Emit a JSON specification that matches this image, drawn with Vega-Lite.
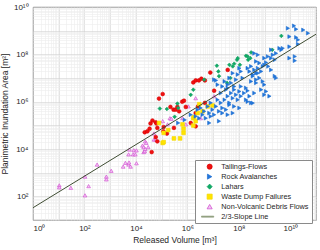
{
"$schema": "https://vega.github.io/schema/vega-lite/v6.json",
"width": 283, "height": 213,
"autosize": {"type": "none"},
"padding": {"left": 33, "top": 7, "right": 4, "bottom": 30},
"background": "white",
"config": {
  "view": {"stroke": "#555555", "strokeWidth": 0.8},
  "axis": {"labelFont": "Liberation Sans", "titleFont": "Liberation Sans", "labelFontSize": 8, "titleFontSize": 8.5, "titleFontWeight": "normal", "labelColor": "#262626", "titleColor": "#262626", "domain": false, "ticks": false, "labelOverlap": false, "gridWidth": 0.6},
  "legend": {"orient": "none", "legendX": 162, "legendY": 153, "title": null, "padding": 3, "strokeColor": "#8a8a8a", "fillColor": "white", "labelFont": "Liberation Sans", "labelFontSize": 7.3, "labelColor": "#262626", "symbolSize": 26, "symbolOffset": 8, "labelOffset": 8, "rowPadding": 1, "symbolStrokeWidth": 0.7}
},
"datasets": {
"pts": [
{"s":"Non-Volcanic Debris Flows","v":10.5,"a":290},
{"s":"Non-Volcanic Debris Flows","v":10.5,"a":240},
{"s":"Non-Volcanic Debris Flows","v":29.5,"a":230},
{"s":"Non-Volcanic Debris Flows","v":105,"a":680},
{"s":"Non-Volcanic Debris Flows","v":105,"a":110},
{"s":"Non-Volcanic Debris Flows","v":145,"a":270},
{"s":"Non-Volcanic Debris Flows","v":310,"a":2200},
{"s":"Non-Volcanic Debris Flows","v":710,"a":680},
{"s":"Non-Volcanic Debris Flows","v":710,"a":520},
{"s":"Non-Volcanic Debris Flows","v":1100,"a":1200},
{"s":"Non-Volcanic Debris Flows","v":3200,"a":1800},
{"s":"Non-Volcanic Debris Flows","v":3900,"a":2600},
{"s":"Non-Volcanic Debris Flows","v":5200,"a":2200},
{"s":"Non-Volcanic Debris Flows","v":5400,"a":2700},
{"s":"Non-Volcanic Debris Flows","v":6200,"a":1800},
{"s":"Non-Volcanic Debris Flows","v":10500,"a":2500},
{"s":"Non-Volcanic Debris Flows","v":5200,"a":5900},
{"s":"Non-Volcanic Debris Flows","v":7800,"a":5900},
{"s":"Non-Volcanic Debris Flows","v":9500,"a":5900},
{"s":"Non-Volcanic Debris Flows","v":5600,"a":9500},
{"s":"Non-Volcanic Debris Flows","v":8300,"a":8900},
{"s":"Non-Volcanic Debris Flows","v":10500,"a":8700},
{"s":"Non-Volcanic Debris Flows","v":18000,"a":14000},
{"s":"Non-Volcanic Debris Flows","v":20000,"a":7400},
{"s":"Non-Volcanic Debris Flows","v":20000,"a":12000},
{"s":"Non-Volcanic Debris Flows","v":22000,"a":8100},
{"s":"Non-Volcanic Debris Flows","v":23000,"a":10000},
{"s":"Non-Volcanic Debris Flows","v":23000,"a":21000},
{"s":"Non-Volcanic Debris Flows","v":25000,"a":18000},
{"s":"Non-Volcanic Debris Flows","v":30000,"a":12000},
{"s":"Non-Volcanic Debris Flows","v":50000,"a":25000},
{"s":"Non-Volcanic Debris Flows","v":50000,"a":45000},
{"s":"Non-Volcanic Debris Flows","v":59000,"a":25000},
{"s":"Non-Volcanic Debris Flows","v":110000,"a":150000},
{"s":"Non-Volcanic Debris Flows","v":170000,"a":110000},
{"s":"Non-Volcanic Debris Flows","v":210000,"a":200000},
{"s":"Non-Volcanic Debris Flows","v":240000,"a":190000},
{"s":"Non-Volcanic Debris Flows","v":650000,"a":200000},
{"s":"Non-Volcanic Debris Flows","v":870000,"a":110000},
{"s":"Non-Volcanic Debris Flows","v":1100000,"a":630000},
{"s":"Non-Volcanic Debris Flows","v":2100000,"a":1400000},
{"s":"Non-Volcanic Debris Flows","v":3300000,"a":200000},
{"s":"Non-Volcanic Debris Flows","v":11000000,"a":1700000},
{"s":"Tailings-Flows","v":79000,"a":1350000},
{"s":"Tailings-Flows","v":110000,"a":2100000},
{"s":"Tailings-Flows","v":44000,"a":160000},
{"s":"Tailings-Flows","v":59000,"a":135000},
{"s":"Tailings-Flows","v":37000,"a":120000},
{"s":"Tailings-Flows","v":63000,"a":120000},
{"s":"Tailings-Flows","v":22000,"a":51000},
{"s":"Tailings-Flows","v":34000,"a":72000},
{"s":"Tailings-Flows","v":59000,"a":32000},
{"s":"Tailings-Flows","v":68000,"a":78000},
{"s":"Tailings-Flows","v":41000,"a":7400},
{"s":"Tailings-Flows","v":28000,"a":56000},
{"s":"Tailings-Flows","v":120000,"a":85000},
{"s":"Tailings-Flows","v":117000,"a":56000},
{"s":"Tailings-Flows","v":220000,"a":600000},
{"s":"Tailings-Flows","v":290000,"a":460000},
{"s":"Tailings-Flows","v":350000,"a":460000},
{"s":"Tailings-Flows","v":410000,"a":600000},
{"s":"Tailings-Flows","v":480000,"a":390000},
{"s":"Tailings-Flows","v":870000,"a":600000},
{"s":"Tailings-Flows","v":300000,"a":78000},
{"s":"Tailings-Flows","v":160000,"a":45000},
{"s":"Tailings-Flows","v":68000,"a":21000},
{"s":"Tailings-Flows","v":630000,"a":1000000},
{"s":"Tailings-Flows","v":740000,"a":1100000},
{"s":"Tailings-Flows","v":2100000,"a":330000},
{"s":"Tailings-Flows","v":2600000,"a":630000},
{"s":"Tailings-Flows","v":4800000,"a":890000},
{"s":"Tailings-Flows","v":1350000,"a":126000},
{"s":"Tailings-Flows","v":2100000,"a":91000},
{"s":"Tailings-Flows","v":11000000,"a":2900000},
{"s":"Tailings-Flows","v":7800000,"a":17000000},
{"s":"Tailings-Flows","v":37000000,"a":22000000},
{"s":"Tailings-Flows","v":1700000,"a":6500000},
{"s":"Tailings-Flows","v":2100000,"a":7900000},
{"s":"Tailings-Flows","v":2800000,"a":7900000},
{"s":"Tailings-Flows","v":3500000,"a":9300000},
{"s":"Tailings-Flows","v":4800000,"a":7900000},
{"s":"Lahars","v":85000,"a":510000},
{"s":"Lahars","v":160000,"a":490000},
{"s":"Lahars","v":320000,"a":230000},
{"s":"Lahars","v":410000,"a":830000},
{"s":"Lahars","v":440000,"a":540000},
{"s":"Lahars","v":1350000,"a":1950000},
{"s":"Lahars","v":1700000,"a":3200000},
{"s":"Lahars","v":4500000,"a":8500000},
{"s":"Lahars","v":14000000,"a":33000000},
{"s":"Lahars","v":16000000,"a":19000000},
{"s":"Lahars","v":17000000,"a":12000000},
{"s":"Lahars","v":35000000,"a":6200000},
{"s":"Lahars","v":47000000,"a":10000000},
{"s":"Lahars","v":43000000,"a":36000000},
{"s":"Lahars","v":58000000,"a":31000000},
{"s":"Lahars","v":66000000,"a":40000000},
{"s":"Lahars","v":85000000,"a":59000000},
{"s":"Lahars","v":91000000,"a":69000000},
{"s":"Lahars","v":110000000,"a":36000000},
{"s":"Lahars","v":190000000,"a":87000000},
{"s":"Lahars","v":220000000,"a":81000000},
{"s":"Lahars","v":280000000,"a":69000000},
{"s":"Lahars","v":230000000,"a":59000000},
{"s":"Lahars","v":300000000,"a":120000000},
{"s":"Lahars","v":2000000000,"a":155000000},
{"s":"Lahars","v":4500000000,"a":600000000},
{"s":"Waste Dump Failures","v":79000,"a":126000},
{"s":"Waste Dump Failures","v":110000,"a":18000},
{"s":"Waste Dump Failures","v":120000,"a":19500},
{"s":"Waste Dump Failures","v":120000,"a":48000},
{"s":"Waste Dump Failures","v":180000,"a":63000},
{"s":"Waste Dump Failures","v":300000,"a":28000},
{"s":"Waste Dump Failures","v":520000,"a":28000},
{"s":"Waste Dump Failures","v":650000,"a":110000},
{"s":"Waste Dump Failures","v":710000,"a":72000},
{"s":"Waste Dump Failures","v":710000,"a":48000},
{"s":"Waste Dump Failures","v":1700000,"a":98000},
{"s":"Waste Dump Failures","v":1700000,"a":200000},
{"s":"Waste Dump Failures","v":1800000,"a":220000},
{"s":"Waste Dump Failures","v":2100000,"a":150000},
{"s":"Waste Dump Failures","v":2500000,"a":330000},
{"s":"Waste Dump Failures","v":2900000,"a":780000},
{"s":"Waste Dump Failures","v":3900000,"a":390000},
{"s":"Waste Dump Failures","v":6200000,"a":630000},
{"s":"Waste Dump Failures","v":9500000,"a":690000},
{"s":"Rock Avalanches","v":8.1e9,"a":1.26e9},
{"s":"Rock Avalanches","v":1.4e10,"a":1.6e9},
{"s":"Rock Avalanches","v":1.7e10,"a":1.15e9},
{"s":"Rock Avalanches","v":3.2e10,"a":1.07e9},
{"s":"Rock Avalanches","v":4.9e10,"a":7.8e8},
{"s":"Rock Avalanches","v":9.3e9,"a":5.6e8},
{"s":"Rock Avalanches","v":1.7e10,"a":5.2e8},
{"s":"Rock Avalanches","v":2.0e10,"a":4.1e8},
{"s":"Rock Avalanches","v":3.8e9,"a":1.8e8},
{"s":"Rock Avalanches","v":5.1e9,"a":1.8e8},
{"s":"Rock Avalanches","v":1.8e9,"a":1.55e8},
{"s":"Rock Avalanches","v":2.8e9,"a":1.1e8},
{"s":"Rock Avalanches","v":2.1e9,"a":9.5e7},
{"s":"Rock Avalanches","v":1.5e10,"a":5.4e7},
{"s":"Rock Avalanches","v":1.35e9,"a":8.1e7},
{"s":"Rock Avalanches","v":9.8e8,"a":6.9e7},
{"s":"Rock Avalanches","v":4.0e8,"a":1.1e8},
{"s":"Rock Avalanches","v":5.5e8,"a":9.5e7},
{"s":"Rock Avalanches","v":6.3e8,"a":4.3e7},
{"s":"Rock Avalanches","v":8.5e8,"a":3.1e7},
{"s":"Rock Avalanches","v":5.5e8,"a":2.6e7},
{"s":"Rock Avalanches","v":7.4e8,"a":1.9e7},
{"s":"Rock Avalanches","v":4.7e8,"a":1.6e7},
{"s":"Rock Avalanches","v":1.15e9,"a":4.5e7},
{"s":"Rock Avalanches","v":1.4e9,"a":3.1e7},
{"s":"Rock Avalanches","v":1.8e9,"a":2.2e7},
{"s":"Rock Avalanches","v":2.5e9,"a":1.2e7},
{"s":"Rock Avalanches","v":2.8e9,"a":1.0e7},
{"s":"Rock Avalanches","v":2.2e8,"a":2.6e7},
{"s":"Rock Avalanches","v":3.0e8,"a":3.1e7},
{"s":"Rock Avalanches","v":2.6e8,"a":1.9e7},
{"s":"Rock Avalanches","v":3.5e8,"a":1.4e7},
{"s":"Rock Avalanches","v":4.7e8,"a":8.5e6},
{"s":"Rock Avalanches","v":3.0e8,"a":7.2e6},
{"s":"Rock Avalanches","v":1.05e8,"a":2.6e7},
{"s":"Rock Avalanches","v":1.2e8,"a":1.9e7},
{"s":"Rock Avalanches","v":9.1e7,"a":1.4e7},
{"s":"Rock Avalanches","v":1.4e8,"a":1.0e7},
{"s":"Rock Avalanches","v":7.8e7,"a":8.5e6},
{"s":"Rock Avalanches","v":5.8e7,"a":1.6e7},
{"s":"Rock Avalanches","v":4.3e7,"a":1.0e7},
{"s":"Rock Avalanches","v":5.0e7,"a":6.2e6},
{"s":"Rock Avalanches","v":6.6e7,"a":4.4e6},
{"s":"Rock Avalanches","v":3.7e7,"a":3.8e6},
{"s":"Rock Avalanches","v":2.8e7,"a":7.2e6},
{"s":"Rock Avalanches","v":2.3e7,"a":4.4e6},
{"s":"Rock Avalanches","v":3.2e7,"a":3.2e6},
{"s":"Rock Avalanches","v":2.0e7,"a":2.3e6},
{"s":"Rock Avalanches","v":1.2e8,"a":4.4e6},
{"s":"Rock Avalanches","v":1.9e8,"a":3.8e6},
{"s":"Rock Avalanches","v":1.6e8,"a":2.3e6},
{"s":"Rock Avalanches","v":2.6e8,"a":1.7e6},
{"s":"Rock Avalanches","v":1.2e8,"a":1.7e6},
{"s":"Rock Avalanches","v":9.1e7,"a":1.2e6},
{"s":"Rock Avalanches","v":2.2e8,"a":1.0e6},
{"s":"Rock Avalanches","v":3.5e8,"a":8.7e5},
{"s":"Rock Avalanches","v":7.4e8,"a":3.2e6},
{"s":"Rock Avalanches","v":1.15e9,"a":2.7e6},
{"s":"Rock Avalanches","v":9.8e8,"a":1.95e6},
{"s":"Rock Avalanches","v":1.55e9,"a":1.7e6},
{"s":"Rock Avalanches","v":5.0e7,"a":2.3e6},
{"s":"Rock Avalanches","v":3.7e7,"a":1.7e6},
{"s":"Rock Avalanches","v":5.8e7,"a":1.4e6},
{"s":"Rock Avalanches","v":2.8e7,"a":1.2e6},
{"s":"Rock Avalanches","v":4.3e7,"a":8.9e5},
{"s":"Rock Avalanches","v":1.5e7,"a":1.2e6},
{"s":"Rock Avalanches","v":2.0e7,"a":8.9e5},
{"s":"Rock Avalanches","v":1.3e7,"a":6.3e5},
{"s":"Rock Avalanches","v":2.3e7,"a":5.4e5},
{"s":"Rock Avalanches","v":1.7e7,"a":3.9e5},
{"s":"Rock Avalanches","v":3.2e7,"a":4.6e5},
{"s":"Rock Avalanches","v":8.1e6,"a":8.9e5},
{"s":"Rock Avalanches","v":6.2e6,"a":6.3e5},
{"s":"Rock Avalanches","v":9.5e6,"a":4.6e5},
{"s":"Rock Avalanches","v":7.1e6,"a":3.3e5},
{"s":"Rock Avalanches","v":4.5e6,"a":3.9e5},
{"s":"Rock Avalanches","v":1.1e7,"a":2.8e5},
{"s":"Rock Avalanches","v":3.3e6,"a":5.4e5},
{"s":"Rock Avalanches","v":2.5e6,"a":4.6e5},
{"s":"Rock Avalanches","v":3.9e6,"a":2.8e5},
{"s":"Rock Avalanches","v":2.9e6,"a":2.0e5},
{"s":"Rock Avalanches","v":5.2e6,"a":2.0e5},
{"s":"Rock Avalanches","v":1.1e7,"a":8.5e6},
{"s":"Rock Avalanches","v":1.3e7,"a":7.9e6},
{"s":"Rock Avalanches","v":1.5e7,"a":5.2e6},
{"s":"Rock Avalanches","v":3.7e7,"a":5.2e6},
{"s":"Rock Avalanches","v":6.6e7,"a":3.2e6},
{"s":"Rock Avalanches","v":1.05e8,"a":2.7e6},
{"s":"Rock Avalanches","v":2.2e8,"a":2.9e6},
{"s":"Rock Avalanches","v":7.8e7,"a":1.95e6},
{"s":"Rock Avalanches","v":1.9e8,"a":1.2e6},
{"s":"Rock Avalanches","v":6.6e7,"a":6.3e5},
{"s":"Rock Avalanches","v":1.05e8,"a":5.4e5},
{"s":"Rock Avalanches","v":4.3e7,"a":7.4e5},
{"s":"Rock Avalanches","v":3.7e7,"a":2.8e5},
{"s":"Rock Avalanches","v":5.8e7,"a":3.3e5},
{"s":"Rock Avalanches","v":2.3e7,"a":3.3e5},
{"s":"Rock Avalanches","v":8.1e6,"a":2.4e5},
{"s":"Rock Avalanches","v":1.7e7,"a":1.5e5},
{"s":"Rock Avalanches","v":7.1e6,"a":1.26e5},
{"s":"Rock Avalanches","v":9.8e8,"a":3.6e7},
{"s":"Rock Avalanches","v":4.0e8,"a":2.2e7},
{"s":"Rock Avalanches","v":5.5e8,"a":1.6e7},
{"s":"Rock Avalanches","v":3.5e8,"a":1.2e7},
{"s":"Rock Avalanches","v":6.3e8,"a":1.0e7},
{"s":"Rock Avalanches","v":8.5e8,"a":7.2e6},
{"s":"Rock Avalanches","v":4.7e8,"a":6.2e6},
{"s":"Rock Avalanches","v":9.8e8,"a":5.2e6},
{"s":"Rock Avalanches","v":4.0e8,"a":2.3e6},
{"s":"Rock Avalanches","v":3.0e8,"a":8.9e5},
{"s":"Rock Avalanches","v":9.3e9,"a":2.1e8},
{"s":"Rock Avalanches","v":2.0e10,"a":2.7e8},
{"s":"Rock Avalanches","v":9.3e9,"a":6.9e7},
{"s":"Rock Avalanches","v":1.5e10,"a":8.1e7},
{"s":"Rock Avalanches","v":4.5e9,"a":1.55e8},
{"s":"Rock Avalanches","v":1.8e9,"a":6.9e7},
{"s":"Rock Avalanches","v":2.5e9,"a":5.9e7},
{"s":"Rock Avalanches","v":4.7e8,"a":5.0e7},
{"s":"Rock Avalanches","v":4.4e5,"a":1.26e5},
{"s":"Rock Avalanches","v":7.9e5,"a":1.7e5},
{"s":"Rock Avalanches","v":1.35e6,"a":2.8e5},
{"s":"Rock Avalanches","v":2.1e6,"a":2.4e5}
],
"slope": [
{"s":"2/3-Slope Line","v":1,"a":33},
{"s":"2/3-Slope Line","v":1e11,"a":7.1e8}
]
},
"layer": [
{
  "data": {"name": "pts"},
  "mark": {"type": "point", "filled": true, "size": 14, "strokeWidth": 0.6, "opacity": 1, "fillOpacity": 1},
  "encoding": {
    "x": {"field": "v", "type": "quantitative",
      "scale": {"type": "log", "domain": [1, 1e11], "nice": false},
      "axis": {"title": "Released Volume [m³]", "tickCount": 30, "labelPadding": 4, "titlePadding": 3,
        "labelExpr": "datum.value==1?'10⁰':datum.value==100?'10²':datum.value==10000?'10⁴':datum.value==1000000?'10⁶':datum.value==100000000?'10⁸':datum.value==10000000000?'10¹⁰':''",
        "gridColor": {"condition": {"test": "abs(log(datum.value)/LN10-round(log(datum.value)/LN10))<0.001", "value": "#d2d2d2"}, "value": "#ececec"}}},
    "y": {"field": "a", "type": "quantitative",
      "scale": {"type": "log", "domain": [10, 1e10], "nice": false},
      "axis": {"title": "Planimetric Inundation Area [m²]", "tickCount": 30, "labelPadding": 5, "titlePadding": 4,
        "labelExpr": "datum.value==100?'10²':datum.value==10000?'10⁴':datum.value==1000000?'10⁶':datum.value==100000000?'10⁸':datum.value==10000000000?'10¹⁰':''",
        "gridColor": {"condition": {"test": "abs(log(datum.value)/LN10-round(log(datum.value)/LN10))<0.001", "value": "#d2d2d2"}, "value": "#ececec"}}},
    "fill": {"field": "s", "type": "nominal",
      "scale": {"domain": ["Tailings-Flows", "Rock Avalanches", "Lahars", "Waste Dump Failures", "Non-Volcanic Debris Flows", "2/3-Slope Line"],
                "range": ["#ee1111", "#2277dd", "#11aa66", "#ffe400", "#f5c4f5", "#8c9c7a"]}},
    "stroke": {"field": "s", "type": "nominal",
      "scale": {"domain": ["Tailings-Flows", "Rock Avalanches", "Lahars", "Waste Dump Failures", "Non-Volcanic Debris Flows", "2/3-Slope Line"],
                "range": ["#dd0000", "#1f6fd0", "#0fa060", "#f5d800", "#cc44cc", "#8c9c7a"]}},
    "shape": {"field": "s", "type": "nominal",
      "scale": {"domain": ["Tailings-Flows", "Rock Avalanches", "Lahars", "Waste Dump Failures", "Non-Volcanic Debris Flows", "2/3-Slope Line"],
                "range": ["circle", "triangle-right", "diamond", "square", "triangle-up", "M-3.2,-0.2L1.6,-0.2L1.6,0.2L-3.2,0.2Z"]}}
  }
},
{
  "data": {"name": "slope"},
  "mark": {"type": "line", "stroke": "#3f4d33", "strokeWidth": 1},
  "encoding": {
    "x": {"field": "v", "type": "quantitative"},
    "y": {"field": "a", "type": "quantitative"}
  }
}
]
}
